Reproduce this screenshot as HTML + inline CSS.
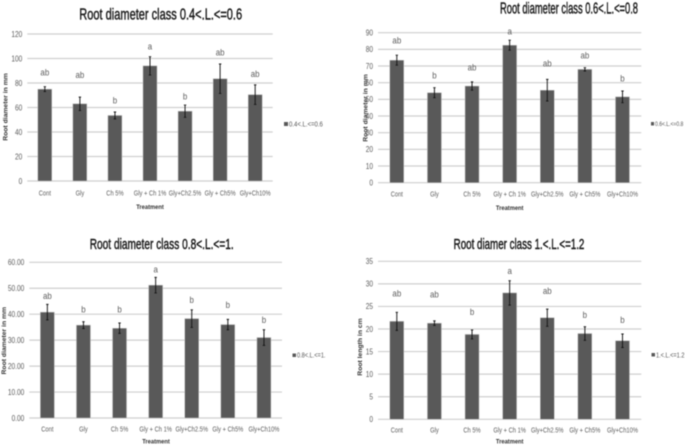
<!DOCTYPE html>
<html lang="en">
<head>
<meta charset="utf-8">
<title>Root diameter classes</title>
<style>
html,body{margin:0;padding:0;background:#fff;width:685px;height:446px;overflow:hidden}
svg{display:block;filter:blur(0.45px)}
text{font-family:"Liberation Sans",sans-serif}
.title{font-size:16px;fill:#1a1a1a;text-anchor:middle;stroke:#1a1a1a;stroke-width:.45}
.axis-title{font-size:6.8px;font-weight:bold;fill:#333;text-anchor:middle}
.legend{font-size:7.5px;fill:#555}
</style>
</head>
<body>
<svg id="figure" width="685" height="446" viewBox="0 0 685 446" xmlns="http://www.w3.org/2000/svg">
  <g id="chart1">
    <text class="title" transform="translate(160.7 19.5) scale(.69 1)">Root diameter class 0.4&lt;.L.&lt;=0.6</text>
    <text class="axis-title" transform="translate(7.5 107)  rotate(-90)">Root diameter in mm</text>
    <text class="axis-title" transform="translate(150 209) scale(.85 1)">Treatment</text>
    <rect x="284" y="122" width="4" height="4" fill="#595959"/>
    <text class="legend" transform="translate(289 126.5) scale(.8 1)">0.4&lt;.L.&lt;=0.6</text>
  </g>
  <g id="chart2">
    <text class="title" transform="translate(569 13.5) scale(.585 1)">Root diameter class 0.6&lt;.L.&lt;=0.8</text>
    <text class="axis-title" transform="translate(367.5 108) rotate(-90)">Root diameter in mm</text>
    <text class="axis-title" transform="translate(509.7 210) scale(.85 1)">Treatment</text>
    <rect x="651" y="122" width="3" height="3.5" fill="#595959"/>
    <text class="legend" style="font-size:6.8px" transform="translate(655 126.2) scale(.74 1)">0.6&lt;.L.&lt;=0.8</text>
  </g>
  <g id="chart3">
    <text class="title" style="font-size:14.5px" transform="translate(161.7 249) scale(.7 1)">Root diameter class 0.8&lt;.L.&lt;=1.</text>
    <text class="axis-title" transform="translate(6 340.7) rotate(-90)">Root diameter in mm</text>
    <text class="axis-title" transform="translate(156 443.5) scale(.85 1)">Treatment</text>
    <rect x="292.5" y="353.5" width="3.5" height="3.5" fill="#595959"/>
    <text class="legend" style="font-size:7.2px" transform="translate(297 357.6) scale(.78 1)">0.8&lt;.L.&lt;=1.</text>
  </g>
  <g id="chart4">
    <text class="title" style="font-size:14.5px" transform="translate(519 249) scale(.675 1)">Root diamer class 1.&lt;.L.&lt;=1.2</text>
    <text class="axis-title" transform="translate(362 347) rotate(-90)">Root length in cm</text>
    <text class="axis-title" transform="translate(509.7 443.5) scale(.85 1)">Treatment</text>
    <rect x="651.5" y="353" width="3.5" height="3.5" fill="#595959"/>
    <text class="legend" style="font-size:7px" transform="translate(656 357.3) scale(.8 1)">1.&lt;.L.&lt;=1.2</text>
  </g>
</svg>
<script>
const categories = ["Cont", "Gly", "Ch 5%", "Gly + Ch 1%", "Gly+Ch2.5%", "Gly + Ch5%", "Gly+Ch10%"];

const chart1Values = [75, 63, 53.5, 94, 57, 83.5, 70.5];
const chart1Errors = [2, 5.5, 2.8, 7.5, 5, 12, 8];
const chart1Letters = ["ab", "ab", "b", "a", "b", "ab", "ab"];
const chart1LetterHeights = [88.7, 86.5, 65.6, 109.7, 68.9, 104.8, 87.2];
const chart1Ticks = ["0", "20", "40", "60", "80", "100", "120"];

const chart2Values = [73.5, 54, 58, 82.5, 55.5, 68, 51.5];
const chart2Errors = [3, 3, 2.5, 3, 6.5, 1, 3.5];
const chart2Letters = ["ab", "b", "ab", "a", "ab", "ab", "b"];
const chart2LetterHeights = [85.2, 64.2, 69, 90.6, 71.6, 76.2, 62.4];
const chart2Ticks = ["0", "10", "20", "30", "40", "50", "60", "70", "80", "90"];

const chart3Values = [40.8, 35.8, 34.6, 51.2, 38.3, 36, 31];
const chart3Errors = [3, 1.3, 2, 3, 3.4, 2, 3];
const chart3Letters = ["ab", "b", "b", "a", "b", "b", "b"];
const chart3LetterHeights = [47, 41.9, 41.9, 57.2, 45.4, 43.6, 37.8];
const chart3Ticks = ["0.00", "10.00", "20.00", "30.00", "40.00", "50.00", "60.00"];

const chart4Values = [21.7, 21.3, 18.8, 28, 22.5, 19, 17.4];
const chart4Errors = [2, 0.5, 1, 2.7, 1.9, 1.5, 1.5];
const chart4Letters = ["ab", "ab", "b", "a", "ab", "b", "b"];
const chart4LetterHeights = [27.9, 27.7, 23.8, 32.8, 28.4, 23.1, 22];
const chart4Ticks = ["0", "5", "10", "15", "20", "25", "30", "35"];

const NS = "http://www.w3.org/2000/svg";

function make(parent, tag, attrs) {
  const el = document.createElementNS(NS, tag);
  for (const k in attrs) el.setAttribute(k, attrs[k]);
  parent.appendChild(el);
  return el;
}

function drawChart(id, box, values, errors, letters, letterHeights, ticks) {
  const g = document.getElementById(id);
  const maxTick = parseFloat(ticks[ticks.length - 1]);
  const minTick = parseFloat(ticks[0]);
  const yScale = v => box.bottom - (v - minTick) / (maxTick - minTick) * (box.bottom - box.top);
  const slot = (box.right - box.left) / categories.length;
  const xScale = i => box.left + slot * (i + 0.5);

  ticks.forEach(t => {
    const v = parseFloat(t);
    const y = yScale(v);
    const line = make(g, "line", {x1: box.left, x2: box.right, y1: y, y2: y, stroke: "#cfcfcf", "stroke-width": 1.2});
    
    
    const label = make(g, "text", {
      transform: `translate(${box.left - 5} ${y + 2.8}) scale(.82 1)`,
      "text-anchor": "end", "font-size": 8, fill: "#5c5c5c"
    });
    label.textContent = t;
    
    
  });

  categories.forEach((c, i) => {
    const x = xScale(i);
    const top = yScale(values[i]);
    const bar = make(g, "rect", {
      x: x - 7, y: top, width: 14, height: box.bottom - top,
      fill: "#595959", stroke: "#c4c4c4", "stroke-width": 0.5
    });
    
    

    const hi = yScale(values[i] + errors[i]);
    const lo = yScale(values[i] - errors[i]);
    const err = make(g, "path", {
      d: `M${x} ${hi}V${lo}M${x - 1.2} ${hi}H${x + 1.2}M${x - 1.2} ${lo}H${x + 1.2}`,
      stroke: "#141414", "stroke-width": 0.95, fill: "none"
    });
    
    

    const letter = make(g, "text", {
      transform: `translate(${x} ${yScale(letterHeights[i]) + 3}) scale(.88 1)`,
      "text-anchor": "middle", "font-size": 9, fill: "#5c5c5c"
    });
    letter.textContent = letters[i];
    
    

    const cat = make(g, "text", {
      transform: `translate(${x} ${box.labelY}) scale(.76 1)`,
      "text-anchor": "middle", "font-size": 7.6, fill: "#5c5c5c"
    });
    cat.textContent = c;
    
    
  });
}

drawChart("chart1", {left: 27.3, right: 272.7, top: 34, bottom: 181, labelY: 195.5},
  chart1Values, chart1Errors, chart1Letters, chart1LetterHeights, chart1Ticks);
drawChart("chart2", {left: 378, right: 641.3, top: 32.7, bottom: 182.7, labelY: 196.5},
  chart2Values, chart2Errors, chart2Letters, chart2LetterHeights, chart2Ticks);
drawChart("chart3", {left: 29.3, right: 282, top: 262.3, bottom: 418, labelY: 431.5},
  chart3Values, chart3Errors, chart3Letters, chart3LetterHeights, chart3Ticks);
drawChart("chart4", {left: 378, right: 641.3, top: 261.3, bottom: 419.3, labelY: 432.5},
  chart4Values, chart4Errors, chart4Letters, chart4LetterHeights, chart4Ticks);
</script>
</body>
</html>
